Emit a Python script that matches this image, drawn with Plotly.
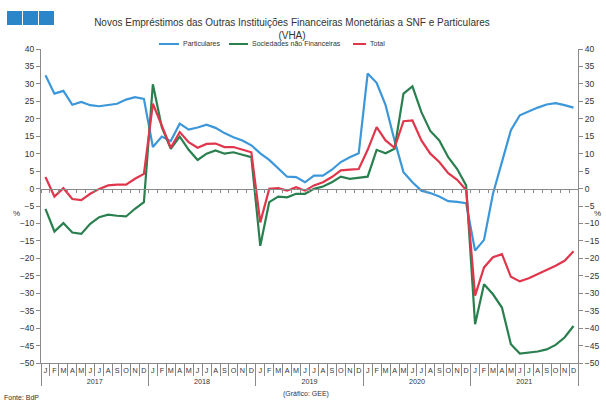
import plotly.graph_objects as go

years = ["2017", "2018", "2019", "2020", "2021"]
# month letters; zero-width spaces keep repeated letters distinct categories
month_letters = ["J", "F", "M", "A", "M\u200b", "J\u200b", "J\u200b\u200b", "A\u200b", "S", "O", "N", "D"]

particulares = [
    32.5, 27.2, 28.0, 24.0, 24.8, 23.9, 23.6, 24.0, 24.3, 25.5, 26.2, 25.7,
    11.9, 14.9, 13.6, 18.6, 16.9, 17.5, 18.3, 17.4, 15.9, 14.7, 13.8, 12.4,
    10.1, 8.2, 5.9, 3.4, 3.3, 1.8, 3.7, 3.7, 5.4, 7.6, 9.0, 10.1,
    33.0, 30.3, 23.9, 13.8, 4.7, 1.8, -0.6, -1.3, -2.3, -3.6, -3.8, -4.2,
    -17.8, -14.7, -1.5, 8.0, 16.7, 21.0, 22.2, 23.2, 24.1, 24.5, 23.9, 23.2,
]
snf = [
    -5.8, -12.3, -9.9, -12.6, -13.0, -10.1, -8.2, -7.5, -7.8, -8.0, -5.8, -3.9,
    29.9, 17.6, 11.4, 14.9, 11.1, 8.2, 10.0, 10.9, 10.0, 10.4, 9.7, 9.0,
    -16.4, -3.9, -2.3, -2.5, -1.5, -1.5, -0.1, 0.6, 1.8, 3.4, 2.8, 3.0,
    3.4, 11.1, 10.1, 11.4, 27.2, 29.3, 21.9, 16.5, 13.8, 9.0, 5.6, 0.9,
    -38.9, -27.4, -30.3, -34.1, -44.6, -47.3, -47.0, -46.7, -46.1, -44.8, -42.7, -39.4,
]
total = [
    3.3, -2.3, 0.1, -3.0, -3.3, -1.5, -0.1, 0.9, 1.1, 1.1, 2.8, 4.2,
    24.3, 18.1, 11.7, 16.2, 13.3, 11.7, 12.8, 12.9, 11.9, 11.9, 11.1, 10.4,
    -9.7, -0.1, 0.1, -0.6, 0.4, -0.6, 0.9, 1.8, 3.3, 5.2, 5.4, 5.6,
    11.1, 17.6, 13.8, 11.7, 19.3, 19.5, 13.8, 10.0, 7.6, 4.4, 2.5, -0.4,
    -30.7, -22.6, -19.7, -18.8, -25.3, -26.6, -25.7, -24.5, -23.4, -22.1, -20.7, -18.0,
]

title = "Novos Empréstimos das Outras Instituições Financeiras Monetárias a SNF e Particulares<br>(VHA)"
series_names = ["Particulares", "Sociedades não Financeiras", "Total"]
colors = ["#3b97d9", "#2a7f4f", "#e0364c"]

x_years = [y for y in years for _ in month_letters]
x_months = [m for _ in years for m in month_letters]
x_multi = [x_years, x_months]
n = len(x_years)

W, H = 606, 405
L, R, T, B = 41, 28, 49, 42
pw, ph = W - L - R, H - T - B

def px(xp):
    return (xp - L) / pw

def py(yp):
    return (H - B - yp) / ph

ymin, ymax = -50, 40

fig = go.Figure()
for name, vals, c in zip(series_names, [particulares, snf, total], colors):
    fig.add_trace(go.Scatter(x=x_multi, y=vals, mode="lines", name=name,
                             line=dict(color=c, width=2.2), showlegend=False))

# dummy traces to activate secondary axes
fig.add_trace(go.Scatter(x=[None], y=[None], yaxis="y2", showlegend=False, hoverinfo="skip"))
fig.add_trace(go.Scatter(x=[None], y=[None], xaxis="x2", showlegend=False, hoverinfo="skip"))

axis_font = dict(family="Liberation Sans Narrow, Arial Narrow, Liberation Sans, Arial, sans-serif",
                 size=8.5, color="#333")
month_font = dict(family="Liberation Sans Narrow, Arial Narrow, Liberation Sans, Arial, sans-serif",
                  size=7.2, color="#333")
grey = "#8a8a8a"

fig.update_layout(
    width=W, height=H,
    margin=dict(l=L, r=R, t=T, b=B, autoexpand=False),
    paper_bgcolor="white", plot_bgcolor="white",
    font=dict(family="Liberation Sans, Arial, sans-serif", color="#333"),
    title=dict(text=title, x=px(292), xanchor="center", xref="paper",
               y=1 - 26 / H, yanchor="middle",
               font=dict(size=10, color="#333")),
    showlegend=False,
    xaxis=dict(type="multicategory", range=[-0.5, n - 0.5], nticks=70,
               showline=True, linecolor=grey, linewidth=1,
               ticks="outside", ticklen=12, tickcolor=grey, tickwidth=1,
               tickangle=0, automargin=False,
               showdividers=True, dividercolor=grey, dividerwidth=1,
               tickfont=month_font, showgrid=False, zeroline=False),
    xaxis2=dict(overlaying="x", anchor="free", position=(0 - ymin) / (ymax - ymin),
                range=[-0.5, n - 0.5], showline=True, linecolor=grey, linewidth=1,
                tickmode="linear", tick0=0.5, dtick=1,
                ticks="outside", ticklen=3, tickcolor=grey,
                showticklabels=False, showgrid=False, zeroline=False),
    yaxis=dict(range=[ymin, ymax], dtick=5, tick0=0, showline=True, linecolor=grey,
               ticks="outside", ticklen=4, tickcolor=grey, tickfont=axis_font,
               showgrid=False, zeroline=False, automargin=False),
    yaxis2=dict(range=[ymin, ymax], dtick=5, tick0=0, overlaying="y", side="right",
                showline=True, linecolor=grey, ticks="outside", ticklen=4, tickcolor=grey,
                tickfont=axis_font, showgrid=False, zeroline=False, automargin=False),
)

# manual legend (short line samples like the original)
legend_font = dict(family="Liberation Sans, Arial, sans-serif", size=7, color="#333")
legend_pos = [(159, 179), (229, 248), (353, 366)]
for name, c, (x0, x1) in zip(series_names, colors, legend_pos):
    fig.add_shape(type="line", xref="paper", yref="paper",
                  x0=px(x0), x1=px(x1), y0=py(44), y1=py(44),
                  line=dict(color=c, width=2))
    fig.add_annotation(text=name, xref="paper", yref="paper", x=px(x1 + 2), y=py(44),
                       xanchor="left", yanchor="middle", showarrow=False, font=legend_font)

# decorative blue squares at top-left
for x0 in [7, 23, 39]:
    fig.add_shape(type="rect", xref="paper", yref="paper",
                  x0=px(x0), x1=px(x0 + 15), y0=py(25), y1=py(11),
                  fillcolor="#2a86c8", line=dict(width=0), layer="above")

small = dict(family="Liberation Sans, Arial, sans-serif", size=7, color="#333")
fig.add_annotation(text="%", xref="paper", yref="paper", x=px(11), y=py(213),
                   showarrow=False, font=dict(size=8, color="#333"))
fig.add_annotation(text="%", xref="paper", yref="paper", x=px(603), y=py(213),
                   showarrow=False, font=dict(size=8, color="#333"))
fig.add_annotation(text="Fonte: BdP", xref="paper", yref="paper", x=px(2), y=py(397),
                   xanchor="left", yanchor="middle", showarrow=False, font=small)
fig.add_annotation(text="(Gráfico: GEE)", xref="paper", yref="paper", x=px(306), y=py(394),
                   xanchor="center", yanchor="middle", showarrow=False, font=small)

fig.write_html("out.html", config={"displayModeBar": False},
               post_script="document.body.style.margin='0px';document.body.style.overflow='hidden';")
